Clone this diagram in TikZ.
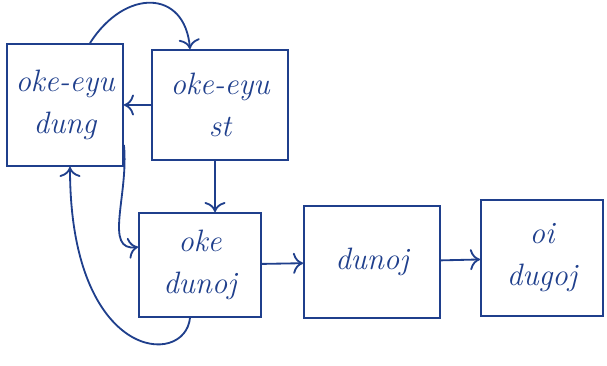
\documentclass[tikz,border=0pt]{standalone}
\usepackage{tikz}
\usetikzlibrary{arrows.meta}
\definecolor{ink}{HTML}{1F3F8C}
\begin{document}
\begin{tikzpicture}[x=0.025cm,y=-0.025cm] % 1 unit = 1 px of the sketch
\tikzstyle{mybox} = [draw=ink, line width=1.3pt, text=ink, align=center, font=\fontsize{22}{30}\selectfont\itshape, inner sep=2pt] % box style
\tikzstyle{myarrow} = [draw=ink, line width=1.3pt, -{To[scale=1.6]}] % arrow style
\useasboundingbox (0,0) rectangle (607,366);

% boxes
\node[mybox, minimum width=2.9cm, minimum height=3.05cm] (eyudung) at (65,105) {oke-eyu\\dung};
\node[mybox, minimum width=3.4cm, minimum height=2.75cm] (eyust) at (220,105) {oke-eyu\\st};
\node[mybox, minimum width=3.05cm, minimum height=2.6cm] (okedunoj) at (200,265) {oke\\dunoj};
\node[mybox, minimum width=3.4cm, minimum height=2.8cm] (dunoj) at (372,262) {dunoj};
\node[mybox, minimum width=3.05cm, minimum height=2.9cm] (oidugoj) at (542,258) {oi\\dugoj};

% arrows
\draw[myarrow] ([xshift=0.625cm]eyudung.north) .. controls +(35,-55) and +(-5,-60) .. ([xshift=-0.75cm]eyust.north);
\draw[myarrow] (eyust.west) -- (eyudung.east);
\draw[myarrow] ([xshift=-0.125cm]eyust.south) -- ([xshift=0.375cm]okedunoj.north);
\draw[myarrow] ([yshift=-1cm]eyudung.east) .. controls +(5,50) and +(-35,5) .. ([yshift=0.45cm]okedunoj.west);
\draw[myarrow] ([xshift=-0.25cm]okedunoj.south) .. controls +(-5,50) and +(0,195) .. ([xshift=0.125cm]eyudung.south);
\draw[myarrow] (okedunoj) -- (dunoj);
\draw[myarrow] (dunoj) -- (oidugoj);
\end{tikzpicture}
\end{document}
